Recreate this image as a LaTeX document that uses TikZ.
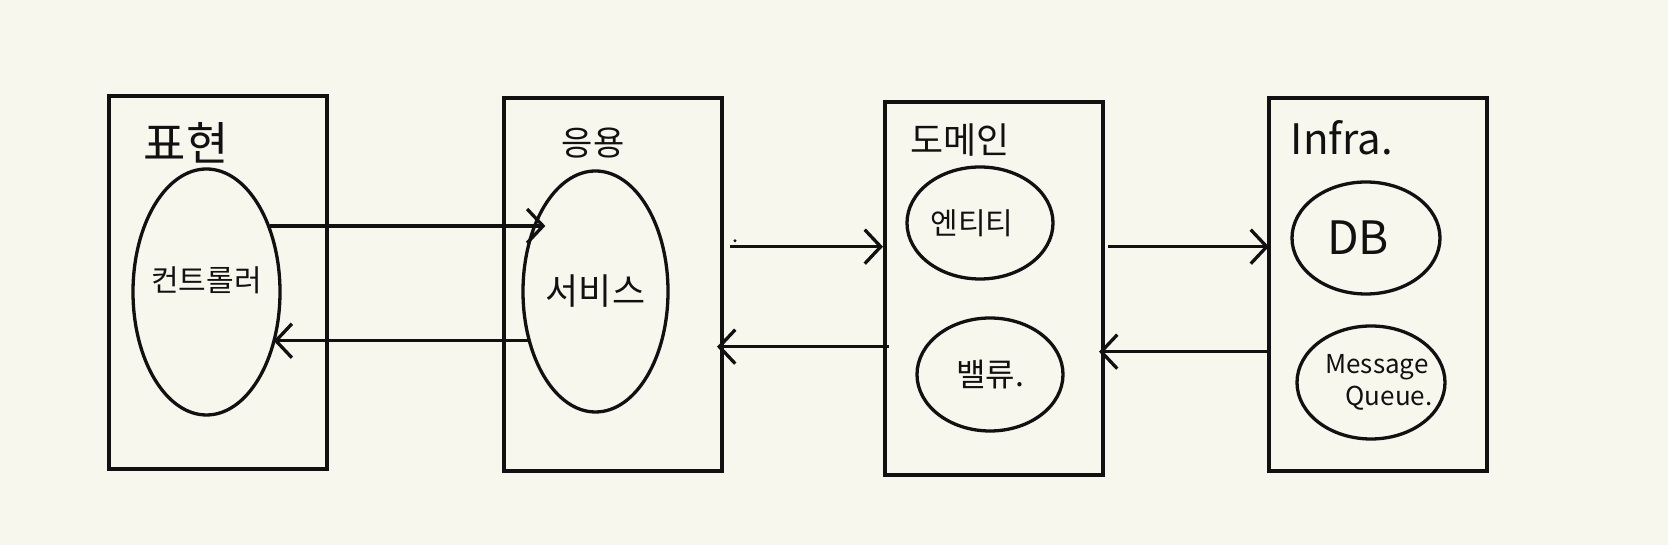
\documentclass[tikz,border=0pt]{standalone}
\usepackage{fontspec}
\setmainfont{Noto Sans CJK KR}
\usetikzlibrary{shapes.geometric,arrows.meta,calc}
\definecolor{paper}{HTML}{F8F7EE}
\definecolor{ink}{HTML}{111111}
\begin{document}
\begin{tikzpicture}[x=1pt,y=1pt,
  layer/.style={draw=ink,line width=4pt,minimum width=218pt,minimum height=373pt,inner sep=0pt},
  part/.style={draw=ink,ellipse,line width=3.3pt,inner sep=0pt},
  word/.style={text=ink,inner sep=0pt,align=center},
  arr/.style={draw=ink,line width=3.3pt,-{Straight Barb[length=16pt,width=34pt,line width=3.3pt]}},
  ttl/.style={text=ink,inner sep=0pt}]
\fill[paper] (0,0) rectangle (1668,545);
\useasboundingbox (0,0) rectangle (1668,545);
% layers
\node[layer] (b1) at (217.5,262.6) {};
\node[layer] (b2) at (613,260.5) {};
\node[layer] (b3) at (994,256.3) {};
\node[layer] (b4) at (1378,260.5) {};
% titles
\node[ttl,font=\fontsize{46}{50}\selectfont] (t1) at (186,402) {표현};
\node[ttl,font=\fontsize{34}{38}\selectfont] (t2) at (593,402) {응용};
\node[ttl,font=\fontsize{36}{40}\selectfont] (t3) at (960,405) {도메인};
\node[ttl,font=\fontsize{42}{46}\selectfont] (t4) at (1342,407) {Infra.};
% parts
\node[part,minimum width=147pt,minimum height=246pt,
  label={[word,font=\fontsize{30}{34}\selectfont,yshift=12pt]center:컨트롤러}] (e1) at (206.5,253) {};
\node[part,minimum width=145pt,minimum height=241pt,
  label={[word,font=\fontsize{36}{40}\selectfont]center:서비스}] (e2) at (595.5,253.5) {};
\node[part,minimum width=146pt,minimum height=112pt,
  label={[word,font=\fontsize{30}{34}\selectfont,xshift=-8pt]center:엔티티}] (e3) at (980,322) {};
\node[part,minimum width=146pt,minimum height=113pt,
  label={[word,font=\fontsize{32}{36}\selectfont]center:밸류.}] (e4) at (990,170.5) {};
\node[part,minimum width=148pt,minimum height=112pt,
  label={[word,font=\fontsize{46}{50}\selectfont,xshift=-8pt]center:DB}] (e5) at (1366,307) {};
\node[part,minimum width=148pt,minimum height=113pt,
  label={[word,font=\fontsize{26}{32}\selectfont,xshift=6pt]center:Message\\\hspace*{24pt}Queue.}] (e6) at (1371,162.5) {};
% connectors
\draw[arr] (e1.46) -- ([xshift=24pt]e1.46 -| e2.west);
\draw[arr] (e2.216) -- ([xshift=-8pt]e2.216 -| e1.east);
\coordinate (s3) at ($(b2.east)+(6,37.8)$);
\draw[arr] (s3) -- (s3 -| b3.west);
\fill[ink] ($(s3)+(5,6)$) circle (1.6pt);
\coordinate (s4) at ($(b3.west)+(6,-58)$);
\draw[arr] (s4) -- ([xshift=-7pt]s4 -| b2.east);
\coordinate (s5) at ($(b3.east)+(3,42)$);
\draw[arr] (s5) -- ([xshift=2pt]s5 -| b4.west);
\coordinate (s6) at ($(b4.west)+(3,-67.2)$);
\draw[arr] (s6) -- ([xshift=-6pt]s6 -| b3.east);
\end{tikzpicture}
\end{document}
